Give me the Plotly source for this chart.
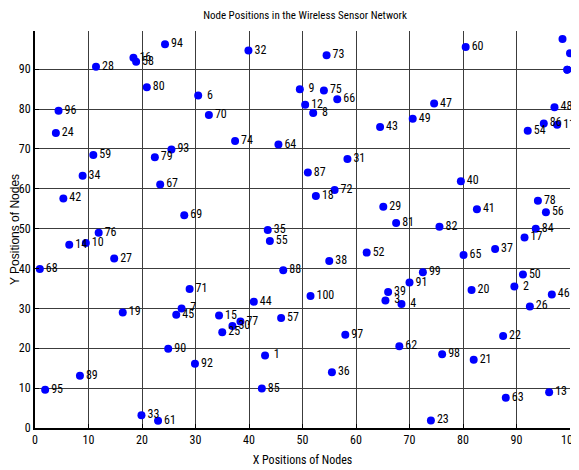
import plotly.graph_objects as go

node_ids = list(range(1, 101))

x_pos = [43.0, 89.6, 65.5, 68.5, 98.6, 30.5, 27.4, 52.0, 49.5, 9.5,
         97.6, 50.5, 96.1, 6.4, 34.4, 18.4, 91.5, 52.5, 16.4, 81.6,
         82.0, 87.5, 74.0, 3.9, 35.0, 92.5, 14.8, 11.4, 65.1, 36.9,
         58.4, 39.9, 19.9, 8.9, 43.5, 55.5, 86.0, 55.0, 66.0, 79.6,
         82.6, 5.3, 64.5, 40.9, 26.4, 96.6, 74.6, 97.1, 70.6, 91.2,
         100.0, 62.0, 99.5, 92.1, 43.9, 95.5, 46.0, 18.9, 10.9, 80.5,
         23.0, 68.1, 88.0, 45.5, 80.1, 56.5, 23.4, 0.9, 27.9, 32.5,
         28.9, 56.0, 54.5, 37.4, 54.0, 11.9, 38.4, 94.0, 22.4, 20.9,
         67.5, 75.6, 99.5, 93.6, 42.4, 95.1, 51.0, 46.4, 8.4, 24.9,
         70.0, 29.9, 25.5, 24.3, 1.9, 4.4, 58.0, 76.1, 72.5, 51.5]

y_pos = [18.2, 35.5, 32.0, 31.1, 97.6, 83.4, 30.0, 79.0, 85.0, 46.4,
         76.1, 81.1, 9.0, 46.0, 28.2, 92.9, 47.8, 58.2, 29.0, 34.6,
         17.1, 23.1, 1.9, 74.0, 24.0, 30.5, 42.5, 90.6, 55.5, 25.6,
         67.5, 94.7, 3.2, 63.3, 49.7, 14.0, 44.9, 41.9, 34.1, 61.9,
         54.9, 57.6, 75.5, 31.7, 28.4, 33.5, 81.4, 80.5, 77.6, 38.5,
         94.0, 44.0, 89.9, 74.6, 46.9, 54.1, 27.6, 91.9, 68.5, 95.6,
         1.8, 20.5, 7.6, 71.1, 43.4, 82.5, 61.1, 39.9, 53.4, 78.5,
         34.9, 59.7, 93.5, 72.0, 84.7, 49.0, 26.7, 57.0, 67.9, 85.5,
         51.4, 50.5, 89.9, 50.0, 9.9, 76.4, 64.1, 39.6, 13.1, 19.9,
         36.5, 16.1, 69.9, 96.3, 9.6, 79.6, 23.4, 18.5, 39.1, 33.1]

x_ticks = [0, 10, 20, 30, 40, 50, 60, 70, 80, 90, 100]
y_ticks = [0, 10, 20, 30, 40, 50, 60, 70, 80, 90]

labels = [("\u00a0" + str(n)) if n < 10 else str(n) for n in node_ids]

NARROW = "Roboto Condensed, Liberation Sans Narrow, sans-serif"

# page body has an 8px default margin; figure sized to fit the 579x470 window
W, H = 571, 462

fig = go.Figure()
fig.add_trace(go.Scatter(
    x=x_pos, y=y_pos, mode="markers+text",
    text=labels, textposition="middle right",
    textfont=dict(family=NARROW, size=12, color="black"),
    marker=dict(color="#0000ff", size=8, line=dict(width=0)),
    cliponaxis=False, showlegend=False,
))

fig.update_layout(
    width=W, height=H,
    margin=dict(l=27, r=9, t=23, b=42),
    paper_bgcolor="white", plot_bgcolor="white",
    title=dict(text="Node Positions in the Wireless Sensor Network",
               x=297 / W, xanchor="center", y=1 - 7 / H, yanchor="middle",
               xref="container", yref="container",
               font=dict(family=NARROW, size=11, color="black")),
    xaxis=dict(range=[0, 100], tickvals=x_ticks, showgrid=True,
               gridcolor="#3c3c3c", gridwidth=1, zeroline=False,
               showline=True, linecolor="black", linewidth=2,
               ticks="inside", ticklen=4, tickcolor="black",
               automargin=False,
               tickfont=dict(family=NARROW, size=12, color="black"),
               title=dict(text="X Positions of Nodes", standoff=9,
                          font=dict(family=NARROW, size=12, color="black"))),
    yaxis=dict(range=[0, 99.6], tickvals=y_ticks, showgrid=True,
               gridcolor="#3c3c3c", gridwidth=1, zeroline=False,
               showline=True, linecolor="black", linewidth=2,
               ticks="inside", ticklen=4, tickcolor="black",
               automargin=False,
               tickfont=dict(family=NARROW, size=12, color="black"),
               title=dict(text="Y Positions of Nodes", standoff=8,
                          font=dict(family="Liberation Sans, Arial, sans-serif",
                                    size=12, color="black"))),
)

fig.write_html("out.html")
